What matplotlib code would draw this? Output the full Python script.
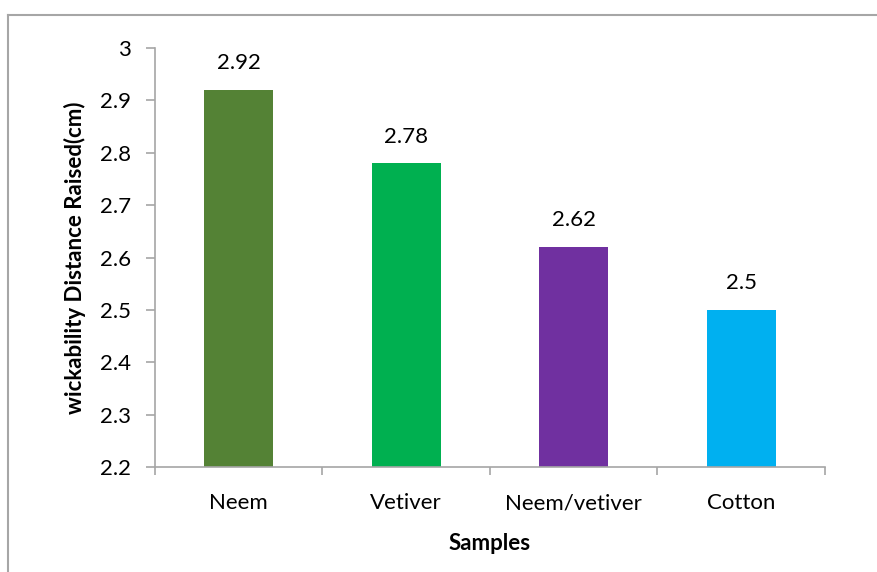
import matplotlib.pyplot as plt
from matplotlib.lines import Line2D
from matplotlib.ticker import FixedLocator, MultipleLocator

# data
samples = ['Neem', 'Vetiver', 'Neem/vetiver', 'Cotton']
distance = [2.92, 2.78, 2.62, 2.5]
colors = ['#548235', '#00B050', '#7030A0', '#00B0F0']

plt.rcParams['font.family'] = ['Lato', 'DejaVu Sans']
grey = '#A6A6A6'

fig = plt.figure(figsize=(8.78, 5.72), dpi=100)
ax = fig.add_axes([155 / 878, 1 - 467 / 572, 670 / 878, (467 - 48) / 572])

x = range(len(samples))
ax.bar(x, [d - 2.2 for d in distance], bottom=2.2, width=0.41, color=colors, zorder=2)
for xi, d in zip(x, distance):
    ax.annotate(f'{d:g}', (xi, d), xytext=(0, 12), textcoords='offset points',
                ha='center', va='bottom', fontsize=16)

ax.set_ylim(2.2, 3.0)
ax.set_xlim(-0.5, len(samples) - 0.5)
ax.yaxis.set_major_locator(MultipleLocator(0.1))
ax.yaxis.set_major_formatter(lambda v, pos: f'{v:g}')
ax.set_xticks(list(x))
ax.set_xticklabels(samples)
ax.xaxis.set_minor_locator(FixedLocator([i - 0.5 for i in range(len(samples) + 1)]))
ax.tick_params(axis='x', which='major', length=0, pad=19, labelsize=16)
ax.tick_params(axis='x', which='minor', length=6, width=1.2, color=grey, direction='out')
ax.tick_params(axis='y', length=6.5, width=1.2, color=grey, direction='out', pad=11, labelsize=16)

for side in ('top', 'right'):
    ax.spines[side].set_visible(False)
for side in ('left', 'bottom'):
    ax.spines[side].set_color(grey)
    ax.spines[side].set_linewidth(1.2)

ax.set_xlabel('Samples', fontsize=16, fontweight='bold', labelpad=14)
ax.set_ylabel('wickability Distance Raised(cm)', fontsize=16, fontweight='bold', labelpad=10)

# chart area border
fig.add_artist(Line2D([8 / 878, 1], [1 - 15 / 572, 1 - 15 / 572], transform=fig.transFigure,
                      color=grey, linewidth=1.5))
fig.add_artist(Line2D([8 / 878, 8 / 878], [0, 1 - 15 / 572], transform=fig.transFigure,
                      color=grey, linewidth=1.5))

fig.savefig('out.png', dpi=100)
